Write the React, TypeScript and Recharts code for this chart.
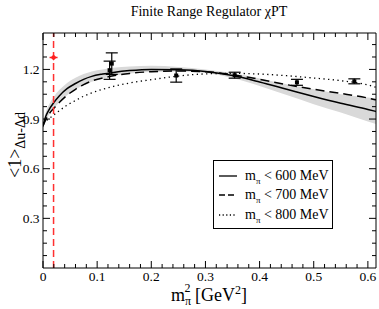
import {
  ComposedChart,
  Line,
  Area,
  Scatter,
  ErrorBar,
  XAxis,
  YAxis,
  ReferenceLine,
  Legend,
} from "recharts";

const SERIF = '"Liberation Serif", "DejaVu Serif", serif';

// fit curves, m_pi^2 in GeV^2
const mpi2 = [0, 0.005, 0.01, 0.02, 0.03, 0.045, 0.06, 0.075, 0.09, 0.11, 0.13, 0.16, 0.2, 0.25, 0.3, 0.35, 0.4, 0.45, 0.5, 0.55, 0.6, 0.615];
const fit600 = [0.855, 0.915, 0.95, 1.0, 1.04, 1.085, 1.115, 1.14, 1.158, 1.172, 1.182, 1.193, 1.2, 1.198, 1.188, 1.163, 1.124, 1.08, 1.036, 0.995, 0.958, 0.946];
const fit700 = [0.86, 0.895, 0.925, 0.965, 1.0, 1.045, 1.08, 1.108, 1.13, 1.148, 1.162, 1.176, 1.186, 1.19, 1.186, 1.168, 1.14, 1.108, 1.08, 1.055, 1.027, 1.016];
const fit800 = [0.875, 0.888, 0.9, 0.925, 0.95, 0.985, 1.012, 1.038, 1.058, 1.08, 1.097, 1.118, 1.138, 1.16, 1.173, 1.176, 1.172, 1.162, 1.148, 1.132, 1.106, 1.092];
const bandLow = [0.84, 0.89, 0.92, 0.965, 1.0, 1.045, 1.08, 1.105, 1.125, 1.145, 1.16, 1.175, 1.185, 1.188, 1.178, 1.148, 1.1, 1.045, 0.99, 0.94, 0.885, 0.87];
const bandHigh = [0.875, 0.94, 0.98, 1.035, 1.075, 1.12, 1.15, 1.172, 1.188, 1.2, 1.21, 1.218, 1.222, 1.215, 1.2, 1.178, 1.145, 1.11, 1.08, 1.05, 1.03, 1.025];

// lattice points
const latticeX = [0.123, 0.127, 0.246, 0.354, 0.469, 0.575];
const latticeY = [1.195, 1.235, 1.163, 1.165, 1.122, 1.128];
const latticeErr = [0.055, 0.065, 0.04, 0.018, 0.018, 0.015];

// physical point
const physX = [0.0195];
const physY = [1.272];

const xTicks = [0, 0.02, 0.04, 0.06, 0.08, 0.1, 0.12, 0.14, 0.16, 0.18, 0.2, 0.22, 0.24, 0.26, 0.28, 0.3, 0.32, 0.34, 0.36, 0.38, 0.4, 0.42, 0.44, 0.46, 0.48, 0.5, 0.52, 0.54, 0.56, 0.58, 0.6];
const xLabels = [0, 0.1, 0.2, 0.3, 0.4, 0.5, 0.6];
const yTicks = [0.075, 0.15, 0.225, 0.3, 0.375, 0.45, 0.525, 0.6, 0.675, 0.75, 0.825, 0.9, 0.975, 1.05, 1.125, 1.2, 1.275, 1.35];
const yLabels = [0.3, 0.6, 0.9, 1.2];

const cutoffs = ["600", "700", "800"];
const dashes = [undefined, "6 3", "1.2 2.4"];

const curves = mpi2.map((x, i) => ({
  x,
  s: fit600[i],
  d: fit700[i],
  o: fit800[i],
  band: [bandLow[i], bandHigh[i]],
}));
const lattice = latticeX.map((x, i) => ({ x, y: latticeY[i], err: latticeErr[i] }));
const physical = physX.map((x, i) => ({ x, y: physY[i] }));

const isMajor = (list: number[], v: number) => list.some((l) => Math.abs(l - v) < 1e-6);

function BottomTick({ x, y, payload }: any) {
  const major = isMajor(xLabels, payload.value);
  return (
    <g>
      <line x1={x} x2={x} y1={y} y2={y - (major ? 7 : 4)} stroke="#000" />
      {major && (
        <text x={x} y={y + 13} textAnchor="middle" fontSize={13.5} fontFamily={SERIF} fill="#000">
          {payload.value === 0 ? "0" : payload.value.toFixed(1)}
        </text>
      )}
    </g>
  );
}

function TopTick({ x, y, payload }: any) {
  const major = isMajor(xLabels, payload.value);
  return <line x1={x} x2={x} y1={y} y2={y + (major ? 7 : 4)} stroke="#000" />;
}

function LeftTick({ x, y, payload }: any) {
  const major = isMajor(yLabels, payload.value);
  return (
    <g>
      <line x1={x} x2={x + (major ? 7 : 4)} y1={y} y2={y} stroke="#000" />
      {major && (
        <text x={x - 3.5} y={y + 4.5} textAnchor="end" fontSize={13.5} fontFamily={SERIF} fill="#000">
          {payload.value.toFixed(1)}
        </text>
      )}
    </g>
  );
}

function RightTick({ x, y, payload }: any) {
  const major = isMajor(yLabels, payload.value);
  return <line x1={x} x2={x - (major ? 7 : 4)} y1={y} y2={y} stroke="#000" />;
}

function LatticeDot({ cx, cy }: any) {
  return <rect x={cx - 2} y={cy - 2} width={4} height={4} fill="#000" />;
}

function PhysDot({ cx, cy }: any) {
  return (
    <g>
      <line x1={cx - 4} x2={cx + 4} y1={cy} y2={cy} stroke="#ff2020" strokeWidth={1.5} />
      <path d={`M${cx},${cy - 3} L${cx + 3},${cy} L${cx},${cy + 3} L${cx - 3},${cy} Z`} fill="#ff2020" />
    </g>
  );
}

function FitLegend() {
  return (
    <div
      style={{
        width: 120,
        height: 69,
        boxSizing: "border-box",
        border: "1px solid #000",
        background: "#fff",
        fontFamily: SERIF,
        fontSize: 14,
        paddingTop: 5,
        paddingLeft: 4,
        color: "#000",
      }}
    >
      {cutoffs.map((c, i) => (
        <div key={c} style={{ display: "flex", alignItems: "center", height: 19.5 }}>
          <svg width={20} height={8}>
            <line x1={1} x2={19} y1={4} y2={4} stroke="#000" strokeWidth={1.3} strokeDasharray={dashes[i]} />
          </svg>
          <span style={{ marginLeft: 7, whiteSpace: "nowrap" }}>
            m<span style={{ fontSize: 9, position: "relative", top: 4 }}>π</span> &lt; {c} MeV
          </span>
        </div>
      ))}
    </div>
  );
}

export default function App() {
  return (
    <div style={{ position: "absolute", left: 0, top: 0, background: "#fff" }}>
      <ComposedChart width={379} height={309} data={curves} margin={{ top: 32, right: 2, bottom: 40, left: 42 }}>
        <XAxis
          type="number"
          dataKey="x"
          domain={[0, 0.615]}
          allowDataOverflow
          ticks={xTicks}
          interval={0}
          height={1}
          tickSize={0}
          tickMargin={0}
          tickLine={false}
          axisLine={{ stroke: "#000" }}
          tick={BottomTick}
          label={() => (
            <text x={171} y={301} fontFamily={SERIF} fontSize={18} fill="#000">
              m
              <tspan fontSize={12} dy={4}>π</tspan>
              <tspan fontSize={12} dx={-6.5} dy={-13}>2</tspan>
              <tspan fontSize={18} dy={9}>{"\u00a0[GeV"}</tspan>
              <tspan fontSize={12} dy={-7}>2</tspan>
              <tspan fontSize={18} dy={7}>]</tspan>
            </text>
          )}
        />
        <XAxis
          xAxisId="top"
          orientation="top"
          type="number"
          dataKey="x"
          domain={[0, 0.615]}
          allowDataOverflow
          ticks={xTicks}
          interval={0}
          height={1}
          tickSize={0}
          tickMargin={0}
          tickLine={false}
          axisLine={{ stroke: "#000" }}
          tick={TopTick}
          label={() => (
            <text x={209} y={16} textAnchor="middle" fontFamily={SERIF} fontSize={14} fill="#000">
              Finite Range Regulator χPT
            </text>
          )}
        />
        <YAxis
          type="number"
          domain={[0, 1.42]}
          allowDataOverflow
          ticks={yTicks}
          interval={0}
          width={1}
          tickSize={0}
          tickMargin={0}
          tickLine={false}
          axisLine={{ stroke: "#000" }}
          tick={LeftTick}
          label={() => (
            <text transform="translate(21,145) rotate(-90)" textAnchor="middle" fontFamily={SERIF} fontSize={18} fill="#000">
              {"<1>"}
              <tspan fontSize={14} dy={4}>Δu-Δd</tspan>
            </text>
          )}
        />
        <YAxis
          yAxisId="right"
          orientation="right"
          type="number"
          domain={[0, 1.42]}
          allowDataOverflow
          ticks={yTicks}
          interval={0}
          width={1}
          tickSize={0}
          tickMargin={0}
          tickLine={false}
          axisLine={{ stroke: "#000" }}
          tick={RightTick}
        />
        <Area type="monotone" dataKey="band" stroke="none" fill="#d9d9d9" fillOpacity={1} isAnimationActive={false} />
        <Line type="monotone" dataKey="o" stroke="#000" strokeWidth={1.3} strokeDasharray="1.3 3.4" dot={false} isAnimationActive={false} />
        <Line type="monotone" dataKey="d" stroke="#000" strokeWidth={1.5} strokeDasharray="9 5" dot={false} isAnimationActive={false} />
        <Line type="monotone" dataKey="s" stroke="#000" strokeWidth={1.5} dot={false} isAnimationActive={false} />
        <ReferenceLine x={0.0195} stroke="#ff3030" strokeWidth={1.5} strokeDasharray="7 4" />
        <Scatter data={lattice} dataKey="y" shape={LatticeDot} isAnimationActive={false}>
          <ErrorBar dataKey="err" direction="y" width={6} stroke="#000" strokeWidth={1.2} />
        </Scatter>
        <Scatter data={physical} dataKey="y" shape={PhysDot} isAnimationActive={false} />
        <Legend
          layout="horizontal"
          align="center"
          verticalAlign="middle"
          content={FitLegend}
          wrapperStyle={{ left: 213, top: 160, width: 120, height: 69 }}
        />
      </ComposedChart>
    </div>
  );
}
